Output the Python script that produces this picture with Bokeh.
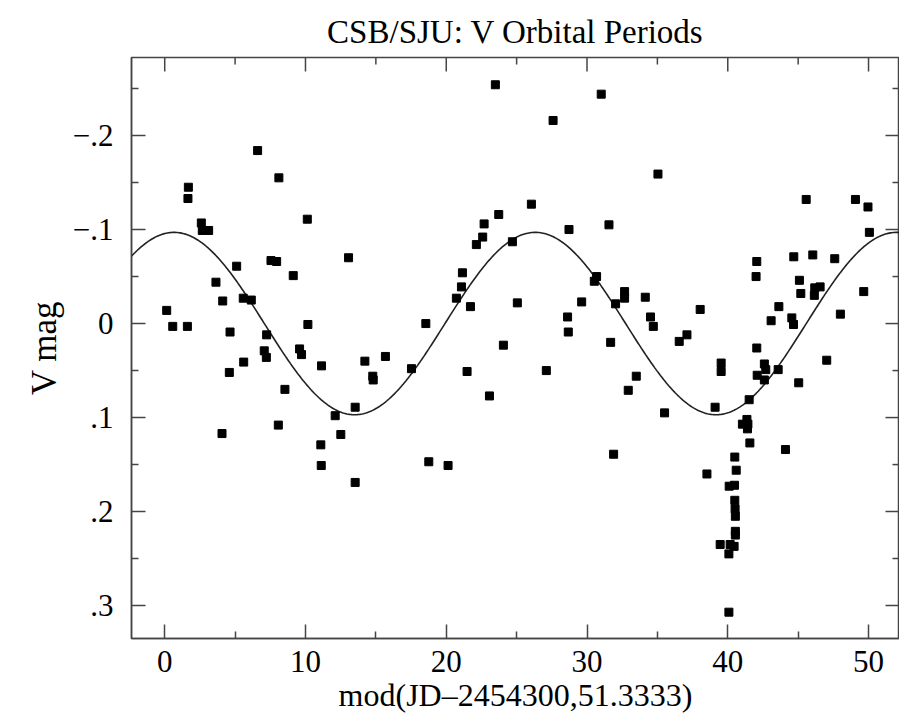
from bokeh.plotting import figure
from bokeh.models import Range1d, LinearAxis, FixedTicker, CustomJSTickFormatter, ColumnDataSource, Title
from bokeh.embed import file_html
from bokeh.resources import INLINE
import numpy as np

# phase (days) and V magnitude of observations
phase = [0.14, 0.57, 1.61, 1.68, 1.65, 2.6, 2.67, 3.12, 3.64, 4.12, 4.64, 4.59, 4.07, 5.11, 5.58, 5.61,
         6.15, 6.6, 7.07, 7.22, 7.24, 7.55, 7.95, 8.11, 8.07, 8.54, 9.13, 9.58, 9.72, 10.13, 10.17,
         11.14, 11.09, 11.12, 12.11, 12.51, 13.06, 13.53, 13.53, 14.22, 14.78, 14.81, 15.68, 17.53,
         18.55, 18.76, 20.13, 20.72, 21.08, 21.15, 21.72, 21.48, 22.14, 22.59, 22.69, 23.07, 23.49,
         23.73, 24.06, 24.7, 25.05, 26.05, 27.11, 27.59, 28.62, 28.67, 28.72, 29.62, 30.52, 30.68,
         31.01, 31.56, 31.68, 31.89, 32.03, 32.67, 32.67, 32.93, 33.5, 34.14, 34.51, 34.71, 35.04,
         35.51, 36.55, 37.1, 38.04, 38.52, 39.1, 39.53, 39.53, 39.46, 40.08, 40.08, 40.17, 40.45,
         40.1, 40.48, 40.5, 40.6, 40.5, 40.52, 40.54, 40.54, 40.54, 41.04, 41.36, 41.43, 41.4, 41.57,
         41.52, 42.01, 42.06, 42.06, 42.09, 42.6, 42.7, 42.6, 43.08, 43.58, 43.63, 44.1, 44.55,
         44.67, 44.69, 45.04, 45.09, 45.19, 45.57, 46.04, 46.15, 46.18, 46.56, 47.03, 47.6, 48.0,
         49.07, 49.66, 49.96, 50.06]
vmag = [-0.014, 0.003, 0.003, -0.145, -0.133, -0.107, -0.099, -0.099, -0.044, -0.024, 0.009, 0.052,
        0.117, -0.061, -0.027, 0.041, -0.025, -0.184, 0.029, 0.036, 0.012, -0.067, -0.066, -0.155,
        0.108, 0.070, -0.051, 0.027, 0.033, -0.111, 0.001, 0.045, 0.129, 0.151, 0.098, 0.118, -0.070,
        0.089, 0.169, 0.040, 0.056, 0.060, 0.035, 0.048, 0.000, 0.147, 0.151, -0.027, -0.039, -0.054,
        -0.018, 0.051, -0.084, -0.092, -0.106, 0.077, -0.254, -0.116, 0.023, -0.087, -0.022, -0.127,
        0.050, -0.216, -0.007, 0.009, -0.100, -0.023, -0.045, -0.050, -0.244, -0.105, 0.020, 0.139,
        -0.021, -0.034, -0.027, 0.071, 0.056, -0.028, -0.007, 0.003, -0.159, 0.095, 0.019, 0.012,
        -0.015, 0.160, 0.089, 0.042, 0.051, 0.235, 0.245, 0.307, 0.235, 0.237, 0.173, 0.172, 0.142,
        0.156, 0.188, 0.197, 0.205, 0.221, 0.225, 0.107, 0.102, 0.107, 0.112, 0.127, 0.081, -0.050,
        -0.066, 0.026, 0.055, 0.043, 0.049, 0.060, -0.003, 0.049, -0.018, 0.134, -0.006, 0.001,
        -0.071, 0.063, -0.046, -0.032, -0.132, -0.073, -0.030, -0.038, -0.039, 0.039, -0.069, -0.010,
        -0.132, -0.034, -0.124, -0.097]

# fitted sinusoid parameters
fit_amplitude = 0.097
fit_period = 51.3333 / 2
fit_peak_phase = 0.66

x_ticks = [0, 10, 20, 30, 40, 50]
x_minor = [5, 15, 25, 35, 45]
y_ticks = [-0.2, -0.1, 0.0, 0.1, 0.2, 0.3]
y_minor = [-0.25, -0.15, -0.05, 0.05, 0.15, 0.25]

X0, X1 = -2.36, 52.2
Y_BOTTOM, Y_TOP = 0.335, -0.283

FONT = "Liberation Serif"
AX = "#454545"

p = figure(width=899, height=715, output_backend="svg", toolbar_location=None,
           x_range=Range1d(X0, X1), y_range=Range1d(Y_BOTTOM, Y_TOP),
           min_border_left=131, min_border_right=0, min_border_top=57, min_border_bottom=76,
           x_axis_location=None, y_axis_location=None)
p.grid.visible = False
p.outline_line_color = AX
p.outline_line_width = 1.5
p.background_fill_color = "white"
p.border_fill_color = "white"

p.title = Title(text="CSB/SJU: V Orbital Periods", align="center", text_font=FONT,
                text_font_size="33px", text_font_style="normal", text_color="black",
                standoff=16)

fmt_y = CustomJSTickFormatter(code="""
if (Math.abs(tick) < 1e-9) return "0";
var s = Math.abs(tick).toFixed(1).replace(/^0/, "");
return (tick < 0 ? "\u2212" : "") + s;
""")

def style(ax):
    ax.axis_line_color = AX
    ax.axis_line_width = 1.5
    ax.major_tick_line_color = AX
    ax.minor_tick_line_color = AX
    ax.major_tick_line_width = 1.5
    ax.minor_tick_line_width = 1.5
    ax.major_tick_in = 14
    ax.major_tick_out = 0
    ax.minor_tick_in = 7
    ax.minor_tick_out = 0
    ax.major_label_text_font = FONT
    ax.major_label_text_font_size = "31px"
    ax.major_label_text_color = "black"
    ax.axis_label_text_font = FONT
    ax.axis_label_text_font_style = "normal"
    ax.axis_label_text_color = "black"

xb = LinearAxis(ticker=FixedTicker(ticks=x_ticks, minor_ticks=x_minor),
                axis_label="mod(JD\u20132454300,51.3333)")
style(xb)
xb.axis_label_text_font_size = "32px"
xb.major_label_standoff = 12
xb.axis_label_standoff = 2
p.add_layout(xb, "below")

yl = LinearAxis(ticker=FixedTicker(ticks=y_ticks, minor_ticks=y_minor), formatter=fmt_y,
                axis_label="V mag")
style(yl)
yl.axis_label_text_font_size = "35px"
yl.major_label_standoff = 18
yl.axis_label_standoff = 6
p.add_layout(yl, "left")

# mirrored inward ticks on the top and right edges of the frame
kw = dict(length_units="screen", line_color=AX, line_width=1.5)
p.ray(x=x_ticks, y=[Y_TOP] * len(x_ticks), length=14, angle=-np.pi / 2, **kw)
p.ray(x=x_minor, y=[Y_TOP] * len(x_minor), length=7, angle=-np.pi / 2, **kw)
p.ray(x=[X1] * len(y_ticks), y=y_ticks, length=14, angle=np.pi, **kw)
p.ray(x=[X1] * len(y_minor), y=y_minor, length=7, angle=np.pi, **kw)

xc = np.linspace(X0, X1, 600)
yc = -fit_amplitude * np.cos(2 * np.pi * (xc - fit_peak_phase) / fit_period)
p.line(xc, yc, line_color="#222222", line_width=1.6)

src = ColumnDataSource(dict(x=phase, y=vmag))
p.scatter("x", "y", source=src, marker="square", size=8, fill_color="black", line_color="black")

open("out.html", "w").write(file_html(p, INLINE))
